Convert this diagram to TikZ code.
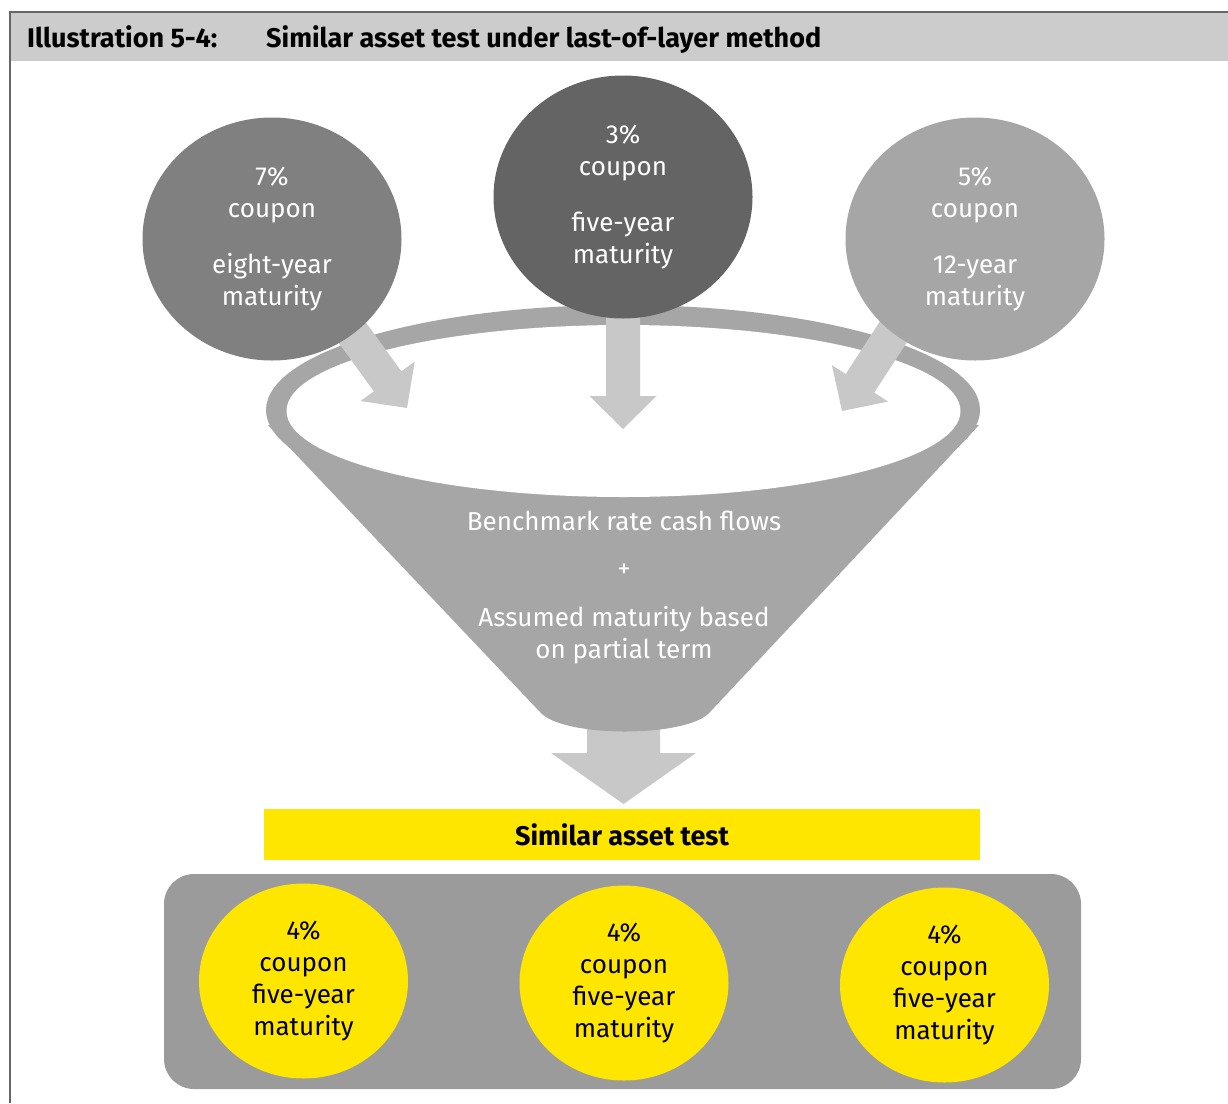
\documentclass[tikz,border=0pt]{standalone}
\usepackage{fontspec}
\setmainfont{Fira Sans}
\usetikzlibrary{shapes.geometric}
\definecolor{hdr}{HTML}{CCCCCC}
\definecolor{framec}{HTML}{666666}
\definecolor{cleft}{HTML}{808080}
\definecolor{cmid}{HTML}{646464}
\definecolor{cright}{HTML}{A6A6A6}
\definecolor{funnelc}{HTML}{A6A6A6}
\definecolor{arrowc}{HTML}{C8C8C8}
\definecolor{eyy}{HTML}{FFE600}
\definecolor{boxg}{HTML}{9B9B9B}
\newcommand{\bodyfont}{\fontsize{26}{32}\selectfont}
\newcommand{\ysblockarrow}[4]{%
  \begin{scope}[shift={(#1,#2)},rotate=#3]
    \fill[arrowc] (-#4,-17) -- (-33,-17) -- (-33,-33.5) -- (0,0) -- (-33,33.5) -- (-33,17) -- (-#4,17) -- cycle;
  \end{scope}}
\tikzset{
  topcirc/.style={ellipse, minimum width=259pt, minimum height=243pt, inner sep=0pt, text=white, align=center, font=\bodyfont},
  ycirc/.style={ellipse, fill=eyy, minimum width=209pt, minimum height=195pt, inner sep=0pt, text=black, align=center, font=\bodyfont},
  hdrtext/.style={anchor=base west, font=\fontsize{27}{30}\selectfont\bfseries, inner sep=0pt},
}
\begin{document}
\begin{tikzpicture}[x=1pt,y=-1pt]
\useasboundingbox (0,0) rectangle (1228,1103);
% header and frame
\fill[hdr] (11,13) rectangle (1228,61);
\draw[framec, line width=2pt] (10,1103) -- (10,12) -- (1228,12);
\node[hdrtext] (hlabel) at (27,47) {Illustration 5-4:};
\node[hdrtext] (htitle) at (266,47) {Similar asset test under last-of-layer method};
% bottom arrow (under funnel)
\fill[arrowc] (587,720) -- (660,720) -- (660,753) -- (696,753) -- (623.5,804) -- (551,753) -- (587,753) -- cycle;
% funnel
\fill[funnelc] (623,410) ellipse [x radius=357pt, y radius=105pt];
\fill[funnelc] (268,425) -- (540,712) .. controls (562,738) and (688,738) .. (710,712) -- (979,425) -- cycle;
\fill[white] (623.5,411) ellipse [x radius=337pt, y radius=86pt];
\node[text=white, align=center, font=\bodyfont] (ftext) at (624,588)
  {Benchmark rate cash flows\\[15pt]+\\[17pt]Assumed maturity based\\on partial term};
% arrows into funnel
\ysblockarrow{407}{408}{-54}{115}
\ysblockarrow{623}{429}{-90}{130}
\ysblockarrow{842}{411}{-123}{115}
% top circles
\node[topcirc, fill=cleft] (c7) at (272,239) {7\%\\coupon\\[24pt]eight-year\\maturity};
\node[topcirc, fill=cmid] (c3) at (623,197) {3\%\\coupon\\[24pt]five-year\\maturity};
\node[topcirc, fill=cright] (c5) at (975,239) {5\%\\coupon\\[24pt]12-year\\maturity};
% similar asset test bar
\node[fill=eyy, minimum width=716pt, minimum height=51pt, inner sep=0pt, font=\fontsize{27}{30}\selectfont\bfseries] (test) at (622,834.5) {Similar asset test};
% gray box with results
\node[fill=boxg, rounded corners=30pt, minimum width=917pt, minimum height=215pt, inner sep=0pt] (resbox) at (622.5,981.5) {};
\node[ycirc] (r1) at (303.5,981) {4\%\\coupon\\five-year\\maturity};
\node[ycirc] (r2) at (624,983) {4\%\\coupon\\five-year\\maturity};
\node[ycirc] (r3) at (944.5,985) {4\%\\coupon\\five-year\\maturity};
\end{tikzpicture}
\end{document}
